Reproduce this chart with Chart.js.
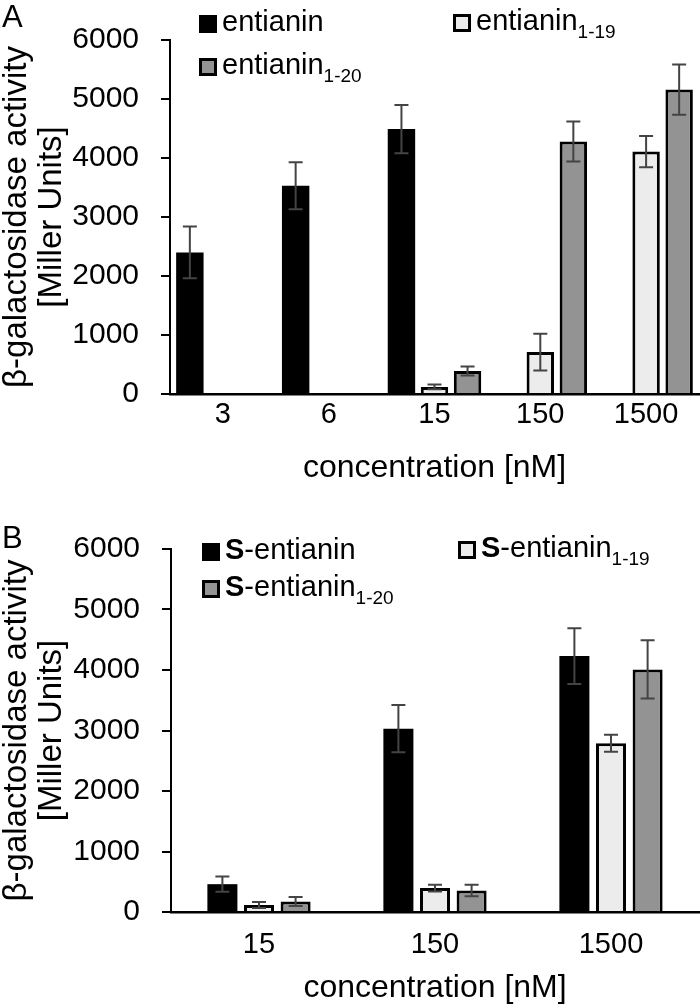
<!DOCTYPE html>
<html>
<head>
<meta charset="utf-8">
<title>entianin β-galactosidase activity</title>
<script src="https://cdn.jsdelivr.net/npm/chart.js@4.4.1/dist/chart.umd.min.js"></script>
<style>
    html, body { margin: 0; padding: 0; background: #fff; }
    #wrap {
        position: relative;
        width: 700px;
        height: 1008px;
        font-family: 'Liberation Sans', Arial, sans-serif;
        color: #000;
        overflow: hidden;
    }
    canvas { position: absolute; left: 0; }
    #chartA { top: 0; }
    #chartB { top: 500px; }
    .letter { position: absolute; left: 2px; font-size: 31px; line-height: 31px; }
    .leg-box {
        position: absolute;
        width: 18px;
        height: 18px;
        box-sizing: border-box;
        border: 3px solid #000;
    }
    .leg-text {
        position: absolute;
        font-size: 29px;
        line-height: 29px;
        white-space: nowrap;
    }
    .leg-text sub {
        font-size: 19px;
        vertical-align: baseline;
        position: relative;
        top: 8px;
    }
</style>
</head>
<body>
<div id="wrap">
    <canvas id="chartA" width="700" height="500"></canvas>
    <canvas id="chartB" width="700" height="508"></canvas>
    <div class="letter" style="top:1px">A</div>
    <div class="letter" style="top:522px">B</div>
</div>
<script>
// Подписи оси Y (общие для обеих панелей)
const yTickValues = [0, 1000, 2000, 3000, 4000, 5000, 6000];

// Панель A
const categoriesA = ['3', '6', '15', '150', '1500'];
const entianin = [2400, 3530, 4490, null, null];
const entianinErr = [440, 400, 410, null, null];
const entianin119 = [null, null, 120, 710, 4110];
const entianin119Err = [null, null, 40, 310, 265];
const entianin120 = [null, null, 390, 4280, 5160];
const entianin120Err = [null, null, 75, 340, 425];

// Панель B
const categoriesB = ['15', '150', '1500'];
const sEntianin = [460, 3030, 4230];
const sEntianinErr = [125, 390, 460];
const sEntianin119 = [115, 395, 2790];
const sEntianin119Err = [50, 55, 140];
const sEntianin120 = [175, 355, 4010];
const sEntianin120Err = [75, 95, 480];

// Названия серий (основа + нижний индекс)
const seriesNames = ['entianin', 'entianin', 'entianin'];
const seriesSubs = ['', '1-19', '1-20'];

const yTitle = ['β-galactosidase activity', '[Miller Units]'];
const xTitle = 'concentration [nM]';

const COLORS = ['#000000', '#ececec', '#939393'];
const FONT = "'Liberation Sans', Arial, sans-serif";

Chart.defaults.font.family = FONT;
Chart.defaults.color = '#000';

// Планки погрешностей поверх столбцов
const errorBarsPlugin = {
    id: 'errorBars',
    afterDatasetsDraw(chart) {
        const ctx = chart.ctx;
        const yScale = chart.scales.y;
        const cap = 7;
        ctx.save();
        ctx.strokeStyle = '#444';
        ctx.lineWidth = 2;
        chart.data.datasets.forEach((ds, di) => {
            const meta = chart.getDatasetMeta(di);
            meta.data.forEach((bar, i) => {
                const v = ds.data[i];
                const e = ds.errors[i];
                if (v == null || e == null) return;
                const top = yScale.getPixelForValue(v + e);
                const bot = yScale.getPixelForValue(v - e);
                ctx.beginPath();
                ctx.moveTo(bar.x, top);
                ctx.lineTo(bar.x, bot);
                ctx.moveTo(bar.x - cap, top);
                ctx.lineTo(bar.x + cap, top);
                ctx.moveTo(bar.x - cap, bot);
                ctx.lineTo(bar.x + cap, bot);
                ctx.stroke();
            });
        });
        ctx.restore();
    }
};

function makeDataset(label, data, errors, idx, geom) {
    return {
        label: label,
        data: data,
        errors: errors,
        backgroundColor: COLORS[idx],
        borderColor: '#000',
        borderWidth: idx === 0 ? 0 : 3,
        borderSkipped: 'start',
        categoryPercentage: geom.catPct,
        barPercentage: geom.barPct
    };
}

function makeChart(canvasId, categories, datasets, geom) {
    const ctx = document.getElementById(canvasId);
    return new Chart(ctx, {
        type: 'bar',
        data: {
            labels: categories,
            datasets: datasets
        },
        options: {
            responsive: false,
            animation: false,
            layout: {
                padding: { top: geom.top, right: 1, bottom: 0, left: 0 }
            },
            plugins: {
                legend: { display: false },
                tooltip: { enabled: false }
            },
            scales: {
                x: {
                    grid: { display: false, drawTicks: false },
                    border: { display: true, color: '#000', width: 2.5 },
                    ticks: {
                        padding: geom.labelPad,
                        font: { size: 29 },
                        color: '#000',
                        maxRotation: 0
                    },
                    title: {
                        display: true,
                        text: xTitle,
                        font: { size: 32 },
                        color: '#000',
                        padding: { top: 0, bottom: geom.titlePad }
                    },
                    afterFit(scale) {
                        scale.height = geom.xHeight;
                    }
                },
                y: {
                    min: 0,
                    max: 6000,
                    afterBuildTicks(scale) {
                        scale.ticks = yTickValues.map(v => ({ value: v }));
                    },
                    grid: {
                        display: true,
                        drawOnChartArea: false,
                        drawTicks: true,
                        tickLength: 9,
                        color: '#000',
                        lineWidth: 2
                    },
                    border: { display: true, color: '#000', width: 2 },
                    ticks: {
                        padding: 22,
                        font: { size: 30 },
                        color: '#000',
                        callback: v => String(v)
                    },
                    title: {
                        display: true,
                        text: yTitle,
                        font: { size: 33, lineHeight: 1.05 },
                        color: '#000',
                        padding: { top: 0, bottom: 0 }
                    },
                    afterFit(scale) {
                        scale.width = geom.yWidth;
                    }
                }
            }
        },
        plugins: [errorBarsPlugin]
    });
}

// Легенда в HTML (нужны нижние индексы и жирная S)
function addLegend(items, prefix) {
    const wrap = document.getElementById('wrap');
    items.forEach(item => {
        const box = document.createElement('div');
        box.className = 'leg-box';
        box.style.left = item.x + 'px';
        box.style.top = item.y + 'px';
        box.style.background = COLORS[item.idx];
        wrap.appendChild(box);

        const text = document.createElement('div');
        text.className = 'leg-text';
        text.style.left = (item.x + 23) + 'px';
        text.style.top = (item.y - 8) + 'px';
        if (prefix) {
            const b = document.createElement('b');
            b.textContent = prefix;
            text.appendChild(b);
            text.appendChild(document.createTextNode('-'));
        }
        text.appendChild(document.createTextNode(seriesNames[item.idx]));
        if (seriesSubs[item.idx]) {
            const sub = document.createElement('sub');
            sub.textContent = seriesSubs[item.idx];
            text.appendChild(sub);
        }
        wrap.appendChild(text);
    });
}

const geomA = { top: 33, xHeight: 106, yWidth: 170, labelPad: 4, titlePad: 13, catPct: 0.937, barPct: 0.83 };
const geomB = { top: 49, xHeight: 96, yWidth: 171, labelPad: 16, titlePad: 1, catPct: 0.624, barPct: 0.82 };

makeChart('chartA', categoriesA, [
    makeDataset('entianin', entianin, entianinErr, 0, geomA),
    makeDataset('entianin1-19', entianin119, entianin119Err, 1, geomA),
    makeDataset('entianin1-20', entianin120, entianin120Err, 2, geomA)
], geomA);

makeChart('chartB', categoriesB, [
    makeDataset('S-entianin', sEntianin, sEntianinErr, 0, geomB),
    makeDataset('S-entianin1-19', sEntianin119, sEntianin119Err, 1, geomB),
    makeDataset('S-entianin1-20', sEntianin120, sEntianin120Err, 2, geomB)
], geomB);

addLegend([
    { idx: 0, x: 199, y: 15 },
    { idx: 2, x: 199, y: 58 },
    { idx: 1, x: 453, y: 14 }
], '');

addLegend([
    { idx: 0, x: 202, y: 543 },
    { idx: 2, x: 202, y: 580 },
    { idx: 1, x: 458, y: 541 }
], 'S');
</script>
</body>
</html>
